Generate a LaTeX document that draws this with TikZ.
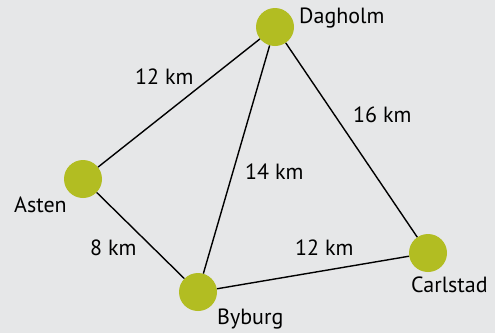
\documentclass[tikz,border=0pt]{standalone}
\usepackage{fontspec}
\setmainfont{PT Sans}
\definecolor{bggray}{HTML}{E6E7E8}
\definecolor{citygreen}{HTML}{B2BD22}
\tikzset{city/.style={circle,fill=citygreen,minimum size=38pt,inner sep=0pt}}
\tikzset{townlabel/.style={font=\fontsize{22}{26}\selectfont,inner sep=0pt,anchor=base west}}
\tikzset{dist/.style={townlabel}}
\tikzset{road/.style={draw,line width=1.4pt}}

\begin{document}
\begin{tikzpicture}[x=1pt,y=-1pt]

	\fill[bggray] (0,0) rectangle (495,333);
	\useasboundingbox (0,0) rectangle (495,333);

        \node[city] (dagholm) at (275,27) {};
        \node[city] (asten) at (83,179) {};
        \node[city] (byburg) at (198,292) {};
        \node[city] (carlstad) at (428,253) {};

        \node[townlabel] (ldagholm) at (299,23) {Dagholm};
        \node[townlabel] (lasten) at (14,212) {Asten};
        \node[townlabel] (lbyburg) at (217,324) {Byburg};
        \node[townlabel] (lcarlstad) at (411,292) {Carlstad};

            \path[road] (dagholm) -- (asten);
            \path[road] (dagholm) -- (byburg);
            \path[road] (dagholm) -- (carlstad);
            \path[road] (asten) -- (byburg);
            \path[road] (byburg) -- (carlstad);

        \node[dist] (d1) at (135,84) {12 km};
        \node[dist] (d2) at (353,122) {16 km};
        \node[dist] (d3) at (245,179) {14 km};
        \node[dist] (d4) at (90,255) {8 km};
        \node[dist] (d5) at (295,255) {12 km};

\end{tikzpicture}
\end{document}
